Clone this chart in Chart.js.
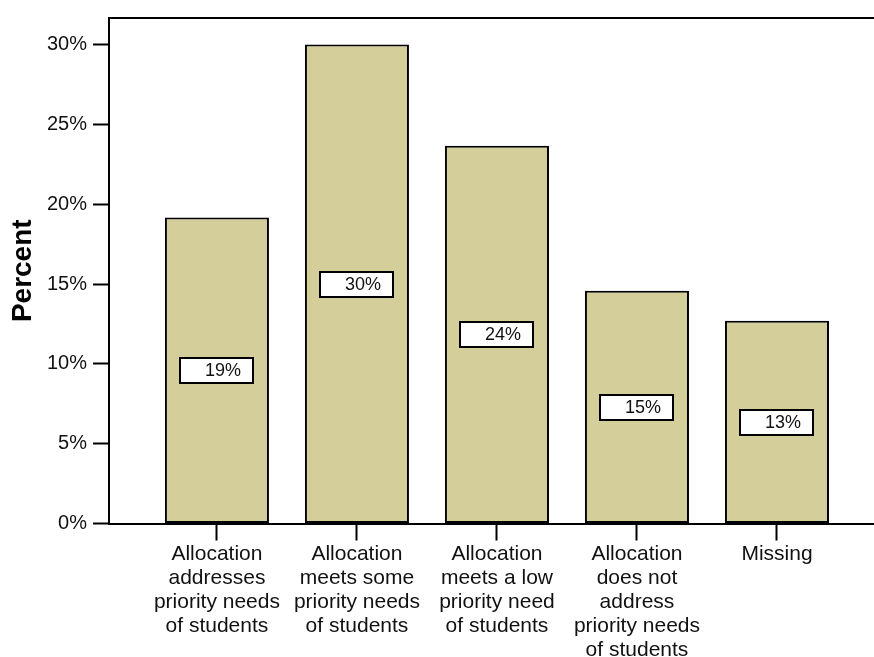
<!DOCTYPE html>
<html>
<head>
<meta charset="utf-8">
<script src="https://cdn.jsdelivr.net/npm/chart.js@4.4.1/dist/chart.umd.min.js"></script>
<style>
  html, body { margin: 0; padding: 0; background: #fff; overflow: hidden; }
  #wrap { width: 874px; height: 657px; position: relative; }
</style>
</head>
<body>
<div id="wrap"><canvas id="c" width="874" height="657"></canvas></div>
<script>
// Category labels (multi-line) and percentages per category
const categories = [
  ["Allocation", "addresses", "priority needs", "of students"],
  ["Allocation", "meets some", "priority needs", "of students"],
  ["Allocation", "meets a low", "priority need", "of students"],
  ["Allocation", "does not", "address", "priority needs", "of students"],
  ["Missing"]
];
const percents = [19.17, 30.0, 23.66, 14.57, 12.70];
const yTicks = [0, 5, 10, 15, 20, 25, 30];

const FONT = "'Liberation Sans', Arial, Helvetica, sans-serif";

// Top frame line of the plot area
const frameTop = {
  id: 'frameTop',
  afterDraw(chart) {
    const { ctx, chartArea } = chart;
    ctx.save();
    ctx.strokeStyle = '#000';
    ctx.lineWidth = 2;
    ctx.beginPath();
    ctx.moveTo(chartArea.left, chartArea.top);
    ctx.lineTo(chart.width, chartArea.top);
    ctx.stroke();
    ctx.restore();
  }
};

// Boxed value labels at the middle of each bar
const valueBoxes = {
  id: 'valueBoxes',
  afterDatasetsDraw(chart) {
    const { ctx } = chart;
    const meta = chart.getDatasetMeta(0);
    const yScale = chart.scales.y;
    ctx.save();
    meta.data.forEach((bar, i) => {
      const v = percents[i];
      const cx = bar.x;
      const cy = yScale.getPixelForValue(v / 2);
      const w = 73, h = 25;
      const x0 = Math.round(cx - w / 2);
      const y0 = Math.round(cy - h / 2);
      ctx.fillStyle = '#fff';
      ctx.fillRect(x0, y0, w, h);
      ctx.strokeStyle = '#000';
      ctx.lineWidth = 2;
      ctx.strokeRect(x0, y0, w, h);
      ctx.fillStyle = '#111';
      ctx.font = '18px ' + FONT;
      ctx.textAlign = 'right';
      ctx.textBaseline = 'middle';
      ctx.fillText(Math.round(v) + '%', x0 + w - 12, y0 + h / 2 + 1);
    });
    ctx.restore();
  }
};

new Chart(document.getElementById('c'), {
  type: 'bar',
  data: {
    datasets: [{
      data: percents.map((v, i) => ({ x: i, y: v })),
      backgroundColor: '#D3CE9A',
      borderColor: '#000',
      borderWidth: 2,
      borderSkipped: false,
      barPercentage: 0.743,
      categoryPercentage: 1
    }]
  },
  options: {
    responsive: false,
    animation: false,
    events: [],
    layout: { padding: { top: 15, right: 0, left: 0, bottom: 0 } },
    plugins: {
      legend: { display: false },
      tooltip: { enabled: false }
    },
    scales: {
      x: {
        type: 'linear',
        min: -0.771,
        max: 4.693,
        offset: false,
        afterBuildTicks(scale) {
          scale.ticks = categories.map((_, i) => ({ value: i }));
        },
        afterFit(scale) { scale.height = 133.5; },
        grid: {
          offset: false,
          drawOnChartArea: false,
          drawTicks: true,
          tickLength: 17,
          tickColor: '#000',
          tickWidth: 2
        },
        border: { display: true, color: '#000', width: 2 },
        ticks: {
          autoSkip: false,
          maxRotation: 0,
          minRotation: 0,
          padding: 2,
          color: '#111',
          font: { family: FONT, size: 21, lineHeight: 1.143 },
          callback: (v) => categories[v]
        }
      },
      y: {
        min: 0,
        max: 31.66,
        afterBuildTicks(scale) {
          scale.ticks = yTicks.map(v => ({ value: v }));
        },
        afterFit(scale) { scale.width = 109; },
        grid: {
          drawOnChartArea: false,
          drawTicks: true,
          tickLength: 16,
          tickColor: '#000',
          tickWidth: 2
        },
        border: { display: true, color: '#000', width: 2 },
        title: {
          display: true,
          text: 'Percent',
          color: '#000',
          font: { family: FONT, size: 28, weight: 'bold' },
          padding: { top: 6, bottom: 0 }
        },
        ticks: {
          padding: 6,
          color: '#111',
          font: { family: FONT, size: 20 },
          callback: (v) => v + '%'
        }
      }
    }
  },
  plugins: [frameTop, valueBoxes]
});
</script>
</body>
</html>
